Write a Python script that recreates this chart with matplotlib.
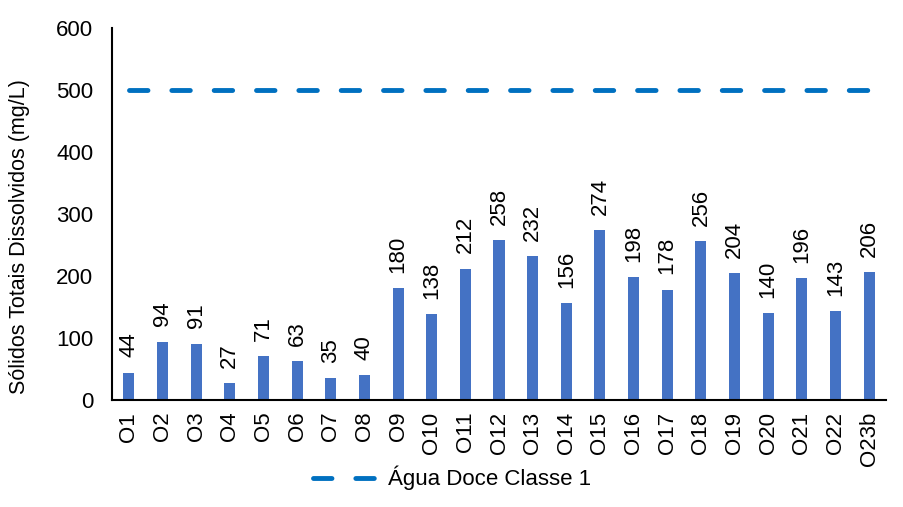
import numpy as np
import matplotlib
matplotlib.use('Agg')
import matplotlib.pyplot as plt
from matplotlib.lines import Line2D

plt.rcParams['font.family'] = ['Liberation Sans', 'DejaVu Sans']

# --- data --------------------------------------------------------------
sites = ['O1', 'O2', 'O3', 'O4', 'O5', 'O6', 'O7', 'O8', 'O9', 'O10', 'O11', 'O12',
         'O13', 'O14', 'O15', 'O16', 'O17', 'O18', 'O19', 'O20', 'O21', 'O22', 'O23b']
tds = [44, 94, 91, 27, 71, 63, 35, 40, 180, 138, 212, 258,
       232, 156, 274, 198, 178, 256, 204, 140, 196, 143, 206]
limit_label = 'Água Doce Classe 1'
limit_value = 500

bar_color = '#4472C4'
line_color = '#0070C0'
dash = (3.8, 4.91)

fig = plt.figure(figsize=(9.04, 5.07), dpi=100)
ax = fig.add_axes([0.124, 0.211, 0.856, 0.734])

x = np.arange(len(sites))
ax.bar(x, tds, width=0.33, color=bar_color, zorder=2)
ax.plot(x, [limit_value] * len(sites), color=line_color, lw=3.5,
        dashes=dash, dash_capstyle='round', zorder=3)

for xi, v in zip(x, tds):
    ax.annotate(str(v), (xi, v), xytext=(0, 11), textcoords='offset points',
                rotation=90, ha='center', va='bottom', fontsize=16)

ax.set_xlim(-0.5, len(sites) - 0.5)
ax.set_ylim(0, 600)
ax.set_yticks(range(0, 601, 100))
ax.set_xticks(x)
ax.set_xticklabels(sites, rotation=90, fontsize=16)
ax.tick_params(axis='y', labelsize=16, length=0, pad=13.5)
ax.tick_params(axis='x', length=0, pad=8.5)
ax.set_ylabel('Sólidos Totais Dissolvidos (mg/L)', fontsize=15.5)
ax.yaxis.set_label_coords(-0.106, 0.44)

for side in ['top', 'right']:
    ax.spines[side].set_visible(False)
for side in ['left', 'bottom']:
    ax.spines[side].set_linewidth(1.5)
    ax.spines[side].set_color('black')

handle = Line2D([0], [0], color=line_color, lw=3.5, dashes=dash,
                dash_capstyle='round')
fig.legend([handle], [limit_label], loc='center', bbox_to_anchor=(0.5, 0.057),
           frameon=False, fontsize=16, handlelength=2.9, handletextpad=0.5)

fig.savefig('out.png', dpi=100)
